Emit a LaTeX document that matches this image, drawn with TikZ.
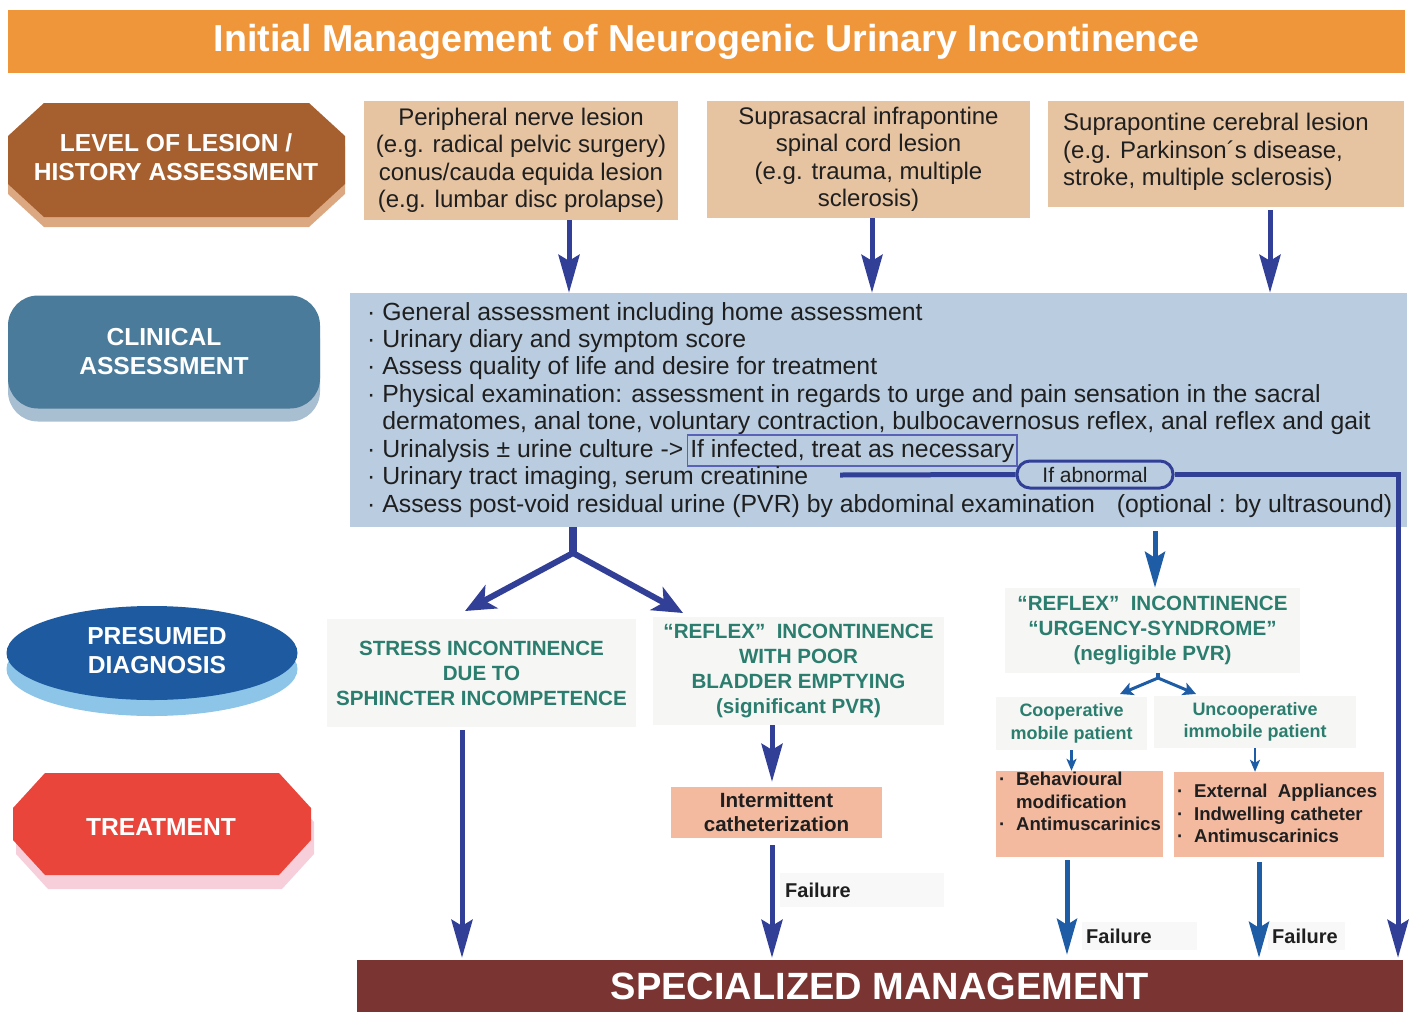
\documentclass[tikz,border=0pt]{standalone}
\usepackage{fontspec}
\setmainfont{Liberation Sans}
\usetikzlibrary{arrows.meta,shapes.geometric,calc}
\definecolor{hdrc}{HTML}{F0963A}
\definecolor{lvlc}{HTML}{A65F2E}
\definecolor{lvlsh}{HTML}{DCA882}
\definecolor{cac}{HTML}{4A7B9B}
\definecolor{cash}{HTML}{A8BED1}
\definecolor{pdc}{HTML}{1E5AA0}
\definecolor{pdsh}{HTML}{8DC5E8}
\definecolor{trc}{HTML}{E9453A}
\definecolor{trsh}{HTML}{F7CFDB}
\definecolor{tanc}{HTML}{E6C3A1}
\definecolor{clinbg}{HTML}{B9CCE0}
\definecolor{diagbg}{HTML}{F6F6F5}
\definecolor{salmon}{HTML}{F4BAA0}
\definecolor{smc}{HTML}{7A3431}
\definecolor{navy}{HTML}{323F97}
\definecolor{blueB}{HTML}{1E5CA5}
\definecolor{tealc}{HTML}{2B7D6E}
\definecolor{infc}{HTML}{5A62B8}
\definecolor{txtc}{HTML}{1F1F1F}
\definecolor{failbg}{HTML}{F8F8F8}
\newcommand{\myfs}[2]{\fontsize{#1}{#2}\selectfont}
\begin{document}
\begin{tikzpicture}[x=1pt,y=-1pt,
  lbl/.style={text=white, font=\bfseries\myfs{24.6}{29}, align=center, inner sep=0pt},
  tanbox/.style={fill=tanc, inner sep=0pt, text=txtc, font=\myfs{24}{27.5}},
  cl/.style={text=txtc, font=\myfs{24.8}{27.4}, inner sep=0pt},
  diag/.style={fill=diagbg, inner sep=0pt, align=center, text=tealc, font=\bfseries\myfs{20.6}{25}},
  subdiag/.style={fill=diagbg, inner sep=0pt, align=center, text=tealc, font=\bfseries\myfs{18}{22.5}},
  treat/.style={fill=salmon, inner sep=0pt, text=txtc},
  fail/.style={fill=failbg, anchor=north west, align=left, inner ysep=0pt, text=txtc, font=\bfseries\myfs{20}{24}},
  arr/.style={draw=navy, line width=5pt, -{Stealth[length=38pt,width=21pt,inset=6pt]}},
  arrB/.style={draw=blueB, line width=5pt, -{Stealth[length=36pt,width=20pt,inset=6pt]}},
  sarr/.style={draw=navy, line width=6pt, {Stealth[length=30pt,width=26pt,inset=8pt]}-{Stealth[length=30pt,width=26pt,inset=8pt]}},
  smarr/.style={draw=blueB, line width=3pt, {Stealth[length=13pt,width=13pt,inset=3pt]}-{Stealth[length=13pt,width=13pt,inset=3pt]}},
  tinyarr/.style={draw=blueB, line width=2.5pt, -{Stealth[length=12pt,width=10pt,inset=3pt]}}
]
\useasboundingbox (0,0) rectangle (1410,1012);

% header
\node[fill=hdrc, minimum width=1397pt, minimum height=63pt, inner sep=0pt, anchor=north west,
      text=white, font=\bfseries\myfs{37.6}{40}] (hdr) at (8,10) {Initial Management of Neurogenic Urinary Incontinence};

% left: level of lesion
\fill[lvlsh, shift={(0,10)}] (44,103) -- (309,103) -- (345,136) -- (345,184) -- (309,217) -- (44,217) -- (8,184) -- (8,136) -- cycle;
\fill[lvlc] (44,103) -- (309,103) -- (345,136) -- (345,184) -- (309,217) -- (44,217) -- (8,184) -- (8,136) -- cycle;
\node[lbl] (lvl) at (176,157) {LEVEL OF LESION /\\HISTORY ASSESSMENT};

% left: clinical assessment
\node[fill=cash, rounded corners=30pt, minimum width=312pt, minimum height=113pt, inner sep=0pt] (caS) at (164,365) {};
\node[fill=cac, rounded corners=30pt, minimum width=312pt, minimum height=113pt, inner sep=0pt, lbl] (ca) at (164,352) {CLINICAL\\ASSESSMENT};

% left: presumed diagnosis
\node[ellipse, fill=pdsh, minimum width=291pt, minimum height=94pt, inner sep=0pt] (pdS) at (152,669) {};
\node[ellipse, fill=pdc, minimum width=291pt, minimum height=94pt, inner sep=0pt] (pd) at (152,653) {};
\node[lbl] (pdT) at (157,651) {PRESUMED\\DIAGNOSIS};

% left: treatment
\fill[trsh, shift={(3,14)}] (45,773) -- (279,773) -- (311,808) -- (311,840) -- (279,875) -- (45,875) -- (13,840) -- (13,808) -- cycle;
\fill[trc] (45,773) -- (279,773) -- (311,808) -- (311,840) -- (279,875) -- (45,875) -- (13,840) -- (13,808) -- cycle;
\node[lbl] (trT) at (161,827) {TREATMENT};

% top boxes
\node[tanbox, align=center, minimum width=314pt, minimum height=119pt] (b1) at (521,160.5)
  {Peripheral nerve lesion\\(e.g. radical pelvic surgery)\\conus/cauda equida lesion\\(e.g. lumbar disc prolapse)};
\node[tanbox, align=center, minimum width=323pt, minimum height=117pt] (b2) at (868.5,159.5)
  {Suprasacral infrapontine\\spinal cord lesion\\(e.g. trauma, multiple\\sclerosis)};
\node[tanbox, minimum width=356pt, minimum height=106pt] (b3) at (1226,154) {};
\node[cl, anchor=west, align=left, font=\myfs{24}{27.5}] (b3T) at (1063,152)
  {Suprapontine cerebral lesion\\(e.g. Parkinson´s disease,\\stroke, multiple sclerosis)};

% clinical box
\node[fill=clinbg, minimum width=1057pt, minimum height=234pt, inner sep=0pt] (clin) at (878.5,410) {};
\node[cl, anchor=base west] (c1) at (367,320) {· General assessment including home assessment};
\node[cl, anchor=base west] (c2) at (367,347) {· Urinary diary and symptom score};
\node[cl, anchor=base west] (c3) at (367,374) {· Assess quality of life and desire for treatment};
\node[cl, anchor=base west] (c4) at (367,402) {· Physical examination: assessment in regards to urge and pain sensation in the sacral};
\node[cl, anchor=base west] (c5) at (367,429) {\phantom{· }dermatomes, anal tone, voluntary contraction, bulbocavernosus reflex, anal reflex and gait};
\node[cl, anchor=base west] (c6) at (367,457) {· Urinalysis ± urine culture ->};
\node[cl, anchor=base west, draw=infc, line width=1.5pt, inner xsep=3pt, inner ysep=4pt] (inf) at ($(c6.base east)+(3,0)$) {If infected, treat as necessary};
\node[cl, anchor=base west] (c7) at (367,484) {· Urinary tract imaging, serum creatinine};
\node[cl, anchor=base west] (c8) at (367,512) {· Assess post-void residual urine (PVR) by abdominal examination\hspace{22pt}(optional : by ultrasound)};
\node[draw=navy, line width=3pt, fill=clinbg, rounded corners=13pt, minimum width=156pt, minimum height=27pt, inner sep=0pt,
      text=txtc, font=\myfs{21}{24}] (abn) at (1095,474.5) {If abnormal};

% diagnosis boxes
\node[diag, minimum width=309pt, minimum height=108pt] (stress) at (481.5,673)
  {STRESS INCONTINENCE\\DUE TO\\SPHINCTER INCOMPETENCE};
\node[diag, minimum width=291pt, minimum height=108pt] (rp) at (798.5,671)
  {“REFLEX”\ \ INCONTINENCE\\WITH POOR\\BLADDER EMPTYING\\(significant PVR)};
\node[diag, minimum width=295pt, minimum height=85pt] (urg) at (1152.5,630.5)
  {“REFLEX”\ \ INCONTINENCE\\“URGENCY-SYNDROME”\\(negligible PVR)};
\node[subdiag, minimum width=151pt, minimum height=53pt] (coop) at (1071.5,723.5)
  {Cooperative\\mobile patient};
\node[subdiag, minimum width=202pt, minimum height=52pt] (uncoop) at (1255,722)
  {Uncooperative\\immobile patient};

% treatment boxes
\node[treat, align=center, minimum width=211pt, minimum height=51pt, font=\bfseries\myfs{20.6}{24}] (ic) at (776.5,812.5)
  {Intermittent\\catheterization};
\node[treat, minimum width=167pt, minimum height=86pt] (beh) at (1079.5,814) {};
\node[cl, anchor=north west, align=left, font=\bfseries\myfs{18.6}{22.5}] (behT) at (999,772)
  {\makebox[17pt][l]{·}Behavioural\\\makebox[17pt][l]{}modification\\\makebox[17pt][l]{·}Antimuscarinics};
\node[treat, minimum width=210pt, minimum height=85pt] (ext) at (1279,814.5) {};
\node[cl, anchor=west, align=left, font=\bfseries\myfs{18.6}{22.5}] (extT) at (1177,813.5)
  {\makebox[17pt][l]{·}External\ \ Appliances\\\makebox[17pt][l]{·}Indwelling catheter\\\makebox[17pt][l]{·}Antimuscarinics};

% failure labels
\node[fail, text width=154pt, inner xsep=5pt, minimum height=34pt] (f1) at (780,873) {Failure};
\node[fail, text width=107pt, inner xsep=4pt, minimum height=28pt] (f2) at (1082,922) {Failure};
\node[fail, text width=69pt, inner xsep=4pt, minimum height=28pt] (f3) at (1268,922) {Failure};

% bottom
\node[fill=smc, minimum width=1046pt, minimum height=52pt, inner sep=0pt, text=white,
      font=\bfseries\myfs{38}{40}] (sm) at (880,986) {SPECIALIZED MANAGEMENT};

% x positions
\coordinate (xa) at (569,0);
\coordinate (xb2) at (872,0);
\coordinate (xc) at (1270,0);
\coordinate (xu) at (1155,0);
\coordinate (xs) at (462,0);
\coordinate (xi) at (772,0);
\coordinate (xbh) at (1067,0);
\coordinate (xe) at (1259,0);
\coordinate (xr) at (1398,0);

% connectors
\draw[arr] (b1.south -| xa) -- (clin.north -| xa);
\draw[arr] (b2.south -| xb2) -- (clin.north -| xb2);
\draw[arr, shorten <=3pt] (b3.south -| xc) -- (clin.north -| xc);

\coordinate (sp) at (573,553);
\coordinate (tL) at (465,611);
\coordinate (tR) at (683,613);
\draw[navy, line width=8pt] (clin.south -| sp) -- (sp);
\draw[sarr, line join=round] (tL) -- (sp) -- (tR);

\draw[arrB, shorten <=4pt] (clin.south -| xu) -- (urg.north -| xu);
\coordinate (sp2) at (1158,678);
\coordinate (tL2) at (1120,694);
\coordinate (tR2) at (1196,694);
\draw[blueB, line width=4pt] (urg.south -| sp2) -- (sp2);
\draw[smarr, line join=round] (tL2) -- (sp2) -- (tR2);

\draw[tinyarr] (coop.south) -- (coop.south |- beh.north);
\draw[tinyarr] (uncoop.south) -- (uncoop.south |- ext.north);

\draw[arr, shorten <=3pt, shorten >=2pt] (stress.south -| xs) -- (sm.north -| xs);
\draw[arr, shorten >=5pt] (rp.south -| xi) -- (ic.north -| xi);
\draw[arr, shorten <=7pt, shorten >=2pt] (ic.south -| xi) -- (sm.north -| xi);
\draw[arrB, shorten <=3pt, shorten >=5pt] (beh.south -| xbh) -- (sm.north -| xbh);
\draw[arrB, shorten <=5pt, shorten >=2pt] (ext.south -| xe) -- (sm.north -| xe);

\coordinate (abS) at (840,475);
\draw[navy, line width=5pt] (abS) -- (abn.west);
\draw[arr, shorten >=2pt] (abn.east) -- (abn.east -| xr) -- (sm.north -| xr);
\end{tikzpicture}
\end{document}
